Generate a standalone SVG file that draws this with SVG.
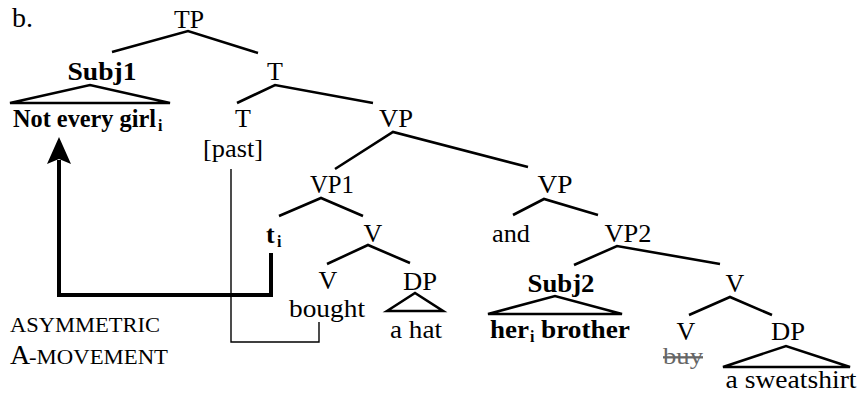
<svg xmlns="http://www.w3.org/2000/svg" width="858" height="395" viewBox="0 0 858 395">
<style>
text{font-family:"Liberation Serif","Times New Roman",serif;font-size:26px;fill:#000}
.m{text-anchor:middle}
.b{font-weight:bold}
.sub{font-size:16px;font-weight:bold}
.e{fill:none;stroke:#000;stroke-width:2.6;stroke-linecap:butt}
.tri{fill:none;stroke:#000;stroke-width:2.6;stroke-linejoin:miter}
.thin{fill:none;stroke:#000;stroke-width:1.4}
.mv{fill:none;stroke:#000;stroke-width:4;stroke-linejoin:miter}
.sc{font-size:22px}
</style>
<rect width="858" height="395" fill="#fff"/>
<text x="12" y="27" style="font-size:28px">b.</text>
<g id="connectors">
<path class="e" d="M112,52 L188,31 L258,53"/>
<path class="e" d="M237,103 L275,85 L373,103"/>
<path class="e" d="M335,169 L393,132 L528,167"/>
<path class="e" d="M279,216 L321,198 L363,216"/>
<path class="e" d="M327,264 L368,245 L410,263"/>
<path class="e" d="M513,215 L544,199 L598,215"/>
<path class="e" d="M574,265 L617,246 L720,264"/>
<path class="e" d="M689,315 L730,297 L772,315"/>
<path class="thin" d="M231,169 V342 H319 V322"/>
<path class="mv" d="M271,253 V295 H59 V160"/>
<path d="M59,137 L71,164 L59,159 L47,164 Z" fill="#000"/>
</g>
<g id="TP"><text class="m" x="189" y="28" textLength="30" lengthAdjust="spacingAndGlyphs">TP</text></g>
<g id="Subj1">
<text class="m b" x="102" y="80" textLength="69" lengthAdjust="spacingAndGlyphs">Subj1</text>
<path class="tri" d="M10,103 L90,85 L170,103 Z"/>
<text class="b" x="13" y="127" textLength="143" lengthAdjust="spacingAndGlyphs">Not every girl</text>
<text class="sub" x="158" y="131">i</text>
</g>
<g id="T1"><text class="m" x="275" y="80">T</text></g>
<g id="T2">
<text class="m" x="243" y="127">T</text>
<text class="m" x="233" y="157" textLength="60" lengthAdjust="spacingAndGlyphs">[past]</text>
</g>
<g id="VP"><text class="m" x="396" y="127" textLength="34" lengthAdjust="spacingAndGlyphs">VP</text></g>
<g id="VP1"><text class="m" x="332" y="193" textLength="44" lengthAdjust="spacingAndGlyphs">VP1</text></g>
<g id="ti"><text class="b" x="266" y="243">t</text><text class="sub" x="277" y="247">i</text></g>
<g id="V1"><text class="m" x="373" y="242">V</text></g>
<g id="V1a">
<text class="m" x="328" y="289">V</text>
<text class="m" x="327" y="317" textLength="76" lengthAdjust="spacingAndGlyphs">bought</text>
</g>
<g id="DP1">
<text class="m" x="420" y="290" textLength="34" lengthAdjust="spacingAndGlyphs">DP</text>
<path class="tri" d="M387,311 L415,293 L443,311 Z"/>
<text class="m" x="416" y="338" textLength="52" lengthAdjust="spacingAndGlyphs">a hat</text>
</g>
<g id="VPb"><text class="m" x="555" y="193" textLength="35" lengthAdjust="spacingAndGlyphs">VP</text></g>
<g id="and"><text class="m" x="511" y="242" textLength="38" lengthAdjust="spacingAndGlyphs">and</text></g>
<g id="VP2"><text class="m" x="628" y="242" textLength="47" lengthAdjust="spacingAndGlyphs">VP2</text></g>
<g id="Subj2">
<text class="m b" x="561" y="292" textLength="67" lengthAdjust="spacingAndGlyphs">Subj2</text>
<path class="tri" d="M488,314 L555,296 L622,314 Z"/>
<text class="b" x="490" y="338" textLength="39" lengthAdjust="spacingAndGlyphs">her</text>
<text class="sub" x="530" y="342">i</text>
<text class="b" x="541" y="338" textLength="89" lengthAdjust="spacingAndGlyphs">brother</text>
</g>
<g id="V2"><text class="m" x="735" y="292">V</text></g>
<g id="V2a">
<text class="m" x="686" y="340">V</text>
<text class="m" x="683" y="364" textLength="40" lengthAdjust="spacingAndGlyphs" style="font-size:23px;fill:#666;text-decoration:line-through">buy</text>
</g>
<g id="DP2">
<text class="m" x="788" y="340" textLength="34" lengthAdjust="spacingAndGlyphs">DP</text>
<path class="tri" d="M723,367 L786,346 L850,367 Z"/>
<text class="m" x="791" y="388" textLength="131" lengthAdjust="spacingAndGlyphs">a sweatshirt</text>
</g>
<g id="label">
<text class="sc" x="10" y="332" textLength="150" lengthAdjust="spacingAndGlyphs">ASYMMETRIC</text>
<text x="10" y="364" style="font-size:28px">A</text>
<text class="sc" x="29" y="364" textLength="139" lengthAdjust="spacingAndGlyphs">-MOVEMENT</text>
</g>
</svg>
